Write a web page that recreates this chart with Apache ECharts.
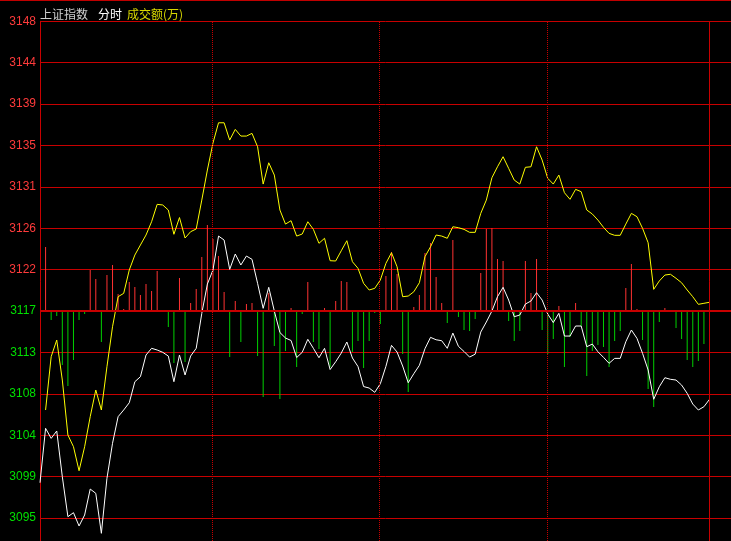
<!DOCTYPE html>
<html>
<head>
<meta charset="utf-8">
<script src="https://cdn.jsdelivr.net/npm/echarts@6/dist/echarts.min.js"></script>
<style>
  html, body { margin: 0; padding: 0; background: #000; }
  #chart { width: 731px; height: 541px; box-sizing: border-box; border-top: 1px solid #c00000; }
</style>
</head>
<body>
<div id="chart"></div>
<script>
// y tick labels, top to bottom
var yLabels = ['3148', '3144', '3139', '3135', '3131', '3126', '3122', '3117', '3113', '3108', '3104', '3099', '3095']
var preClose = 3117.2
var priceStep = 4.45

// 上证指数 (white), one point per 2 minutes
var indexLine = [
  3098.74, 3104.59, 3103.51, 3104.30, 3099.39, 3095.09, 3095.52, 3094.09, 3095.27, 3098.06,
  3097.60, 3093.30, 3099.21, 3102.98, 3105.84, 3106.56, 3107.34, 3109.60, 3110.14, 3112.47,
  3113.19, 3113.01, 3112.76, 3112.36, 3109.60, 3112.47, 3110.32, 3112.36, 3113.19, 3116.95,
  3120.10, 3121.61, 3125.26, 3124.83, 3121.68, 3123.33, 3122.15, 3123.11, 3122.76, 3120.18,
  3117.49, 3119.75, 3117.20, 3114.89, 3114.30, 3114.03, 3112.20, 3112.76, 3114.16, 3113.19,
  3112.18, 3113.19, 3110.91, 3111.75, 3112.68, 3113.87, 3112.15, 3111.23, 3109.08, 3108.92,
  3108.46, 3109.38, 3111.25, 3113.51, 3112.79, 3111.29, 3109.49, 3110.46, 3111.36, 3113.15,
  3114.37, 3114.11, 3114.01, 3113.19, 3114.83, 3113.40, 3112.85, 3112.25, 3112.56, 3114.94,
  3116.02, 3117.20, 3118.74, 3119.75, 3118.38, 3116.59, 3116.77, 3117.95, 3118.28, 3119.17,
  3118.38, 3116.88, 3115.96, 3116.95, 3114.51, 3114.51, 3115.59, 3115.59, 3113.36, 3113.65,
  3112.82, 3112.22, 3111.58, 3112.11, 3112.11, 3113.90, 3115.16, 3114.26, 3112.65, 3110.86,
  3107.71, 3109.06, 3110.03, 3109.86, 3109.78, 3109.24, 3108.35, 3107.20, 3106.56, 3106.91,
  3107.71
]

// yellow line
var avgLine = [
  '-', 3106.56, 3112.29, 3114.08, 3109.78, 3103.87, 3102.61, 3100.03, 3102.61, 3105.84,
  3108.71, 3106.56, 3111.21, 3115.51, 3118.74, 3119.10, 3121.61, 3123.22, 3124.30, 3125.37,
  3126.80, 3128.67, 3128.60, 3128.06, 3125.45, 3127.25, 3125.05, 3125.73, 3126.02, 3129.13,
  3132.36, 3135.26, 3137.44, 3137.44, 3135.58, 3136.73, 3136.01, 3136.01, 3136.30, 3134.86,
  3130.85, 3133.14, 3131.82, 3128.06, 3126.55, 3126.91, 3125.26, 3125.48, 3126.80, 3125.98,
  3124.48, 3125.02, 3122.61, 3122.58, 3123.68, 3124.76, 3122.50, 3121.79, 3120.18, 3119.46,
  3119.64, 3120.53, 3122.33, 3123.47, 3121.96, 3118.74, 3118.81, 3119.27, 3120.24, 3123.04,
  3124.11, 3125.37, 3125.26, 3125.02, 3126.26, 3126.16, 3125.98, 3125.66, 3125.66, 3127.70,
  3129.13, 3131.53, 3132.71, 3133.79, 3132.54, 3131.28, 3130.85, 3132.65, 3132.71, 3134.86,
  3133.43, 3131.47, 3130.85, 3131.82, 3129.92, 3129.21, 3130.28, 3130.03, 3128.06, 3127.63,
  3126.98, 3126.20, 3125.55, 3125.34, 3125.34, 3126.55, 3127.70, 3127.34, 3126.09, 3124.54,
  3119.53, 3120.43, 3121.07, 3121.15, 3120.72, 3120.24, 3119.46, 3118.74, 3117.92, 3118.03,
  3118.14
]

// red/green bars
var strength = [
  0, 64, -9, -5, -54, -75, -49, -9, -3, 41,
  32, -31, 36, 46, 17, 2, 29, 24, 16, 27,
  20, 40, -1, -16, -52, 33, -51, 8, 22, 54,
  86, 72, 55, 19, -46, 10, -31, 7, 8, -45,
  -86, 18, -35, -88, -40, 3, -56, -3, 29, -31,
  -38, 3, -56, 10, 30, 29, -41, -30, -57, -30,
  -2, -13, 35, 59, 37, -43, -81, 4, 16, 58,
  68, 34, 8, -12, 71, -6, -19, -20, -8, 38,
  82, 83, 52, 50, -10, -30, -20, 50, 18, 52,
  -19, -43, -28, 5, -56, -26, 8, -15, -65, -40,
  -34, -36, -56, -30, -20, 23, 47, 2, -29, -78,
  -96, -11, 3, -1, -17, -28, -49, -56, -50, -33,
  -9
]

// hour marks (dotted) and the end of the session (solid), in 2-minute slots
var hourMarks = [30.9, 60.85, 90.9]
var sessionEnd = 120

var gridRed = '#c80000'
var unit = 41.4
// the plot runs past the last labelled line down to the bottom edge,
// and the horizontal lines run past the session end to the right edge
var span = (540 - 20.3) / 41.39
var xMax = sessionEnd * (731 - 40) / 669.5

function pairs(arr) {
  return arr.map(function (v, i) { return [i, v === '-' ? null : v] })
}

var vLines = hourMarks.map(function (x) {
  return { xAxis: x, lineStyle: { color: gridRed, type: [1, 1], width: 1 } }
})
vLines.push({ xAxis: sessionEnd, lineStyle: { color: gridRed, type: 'solid', width: 1 } })

var chart = echarts.init(document.getElementById('chart'))
chart.setOption({
  backgroundColor: '#000',
  animation: false,
  title: {
    left: 40,
    top: 4,
    padding: 0,
    text: '{a|上证指数}  {b|分时} {c|成交额(万)}',
    textStyle: {
      fontWeight: 'normal',
      rich: {
        a: { color: '#d0d0d0', fontSize: 12, fontWeight: 'normal', fontFamily: 'Noto Sans CJK SC' },
        b: { color: '#ffffff', fontSize: 12, fontWeight: 'normal', fontFamily: 'Noto Sans CJK SC' },
        c: { color: '#d8d800', fontSize: 12, fontWeight: 'normal', fontFamily: 'Noto Sans CJK SC' }
      }
    }
  },
  grid: {
    left: 40,
    right: 0,
    top: 20.3,
    bottom: 0,
    show: false
  },
  xAxis: {
    type: 'value',
    min: 0,
    max: xMax,
    axisLine: { show: false },
    axisTick: { show: false },
    axisLabel: { show: false },
    splitLine: { show: false }
  },
  yAxis: [{
    type: 'value',
    inverse: true,
    min: 0,
    max: span,
    interval: 1,
    axisLine: { show: true, onZero: false, lineStyle: { color: gridRed, width: 1 } },
    axisTick: { show: false },
    axisLabel: {
      margin: 4,
      fontSize: 12,
      fontFamily: 'Liberation Sans',
      showMaxLabel: false,
      formatter: function (v) { return yLabels[v] || '' },
      color: function (v) {
        if (v < 7) return '#ff3b3b'
        if (v === 7) return '#ffffff'
        return '#00e000'
      }
    },
    splitLine: { show: true, lineStyle: { color: gridRed, width: 1, opacity: 1 } }
  }, {
    type: 'value',
    show: false,
    min: preClose + 7 * priceStep - span * priceStep,
    max: preClose + 7 * priceStep,
    splitLine: { show: false }
  }, {
    type: 'value',
    show: false,
    min: 7 * unit - span * unit,
    max: 7 * unit,
    splitLine: { show: false }
  }],
  series: [{
    name: '红绿柱',
    type: 'bar',
    yAxisIndex: 2,
    barWidth: 1,
    data: pairs(strength),
    itemStyle: {
      color: function (p) { return p.value[1] >= 0 ? '#ff3232' : '#00d000' }
    },
    markLine: {
      silent: true,
      symbol: 'none',
      label: { show: false },
      lineStyle: { color: gridRed, width: 2, type: 'solid' },
      data: [{ yAxis: 0 }]
    }
  }, {
    name: '上证指数',
    type: 'line',
    yAxisIndex: 1,
    data: pairs(indexLine),
    showSymbol: false,
    lineStyle: { color: '#ffffff', width: 1 },
    itemStyle: { color: '#ffffff' },
    markLine: {
      silent: true,
      symbol: 'none',
      label: { show: false },
      data: vLines
    }
  }, {
    name: '均价',
    type: 'line',
    yAxisIndex: 1,
    data: pairs(avgLine),
    showSymbol: false,
    lineStyle: { color: '#ffff00', width: 1 },
    itemStyle: { color: '#ffff00' }
  }]
})
</script>
</body>
</html>
